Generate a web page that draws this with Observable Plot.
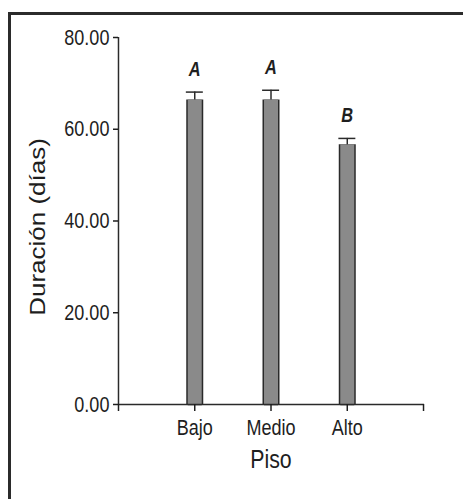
<!DOCTYPE html>
<html><head><meta charset="utf-8">
<script src="https://cdn.jsdelivr.net/npm/d3@7"></script>
<script src="https://cdn.jsdelivr.net/npm/@observablehq/plot@0.6"></script>
<style>
body{margin:0;background:#fff;}
#wrap{position:relative;width:463px;height:499px;overflow:hidden;background:#fff;}
#frame{position:absolute;left:8px;top:12px;width:600px;height:600px;border-top:3px solid #2b2b2b;border-left:3px solid #2b2b2b;pointer-events:none;}
#wrap svg{position:absolute;left:0;top:0;max-width:none !important;transform-origin:0 0;}
</style></head><body><div id="wrap"><div id="frame"></div></div>
<script>
const pisos = ["Bajo", "Medio", "Alto"];
const duracion = [66.4, 66.4, 56.6];
const limiteSup = [68.1, 68.5, 58.0];
const letras = ["A", "A", "B"];
const yTicks = [0, 20, 40, 60, 80];
const xDomain = ["__ini", ...pisos, "__fin"];

const data = pisos.map((p, i) => ({piso: p, dur: duracion[i], sup: limiteSup[i], letra: letras[i]}));
const ink = "#2a2a2a";
// The reference is horizontally condensed: draw wide, then squeeze.
const sx = 0.82;
const W = 463 / sx;

const chart = Plot.plot({
  width: W, height: 499,
  marginLeft: 118 / sx, marginRight: 39 / sx, marginTop: 37, marginBottom: 95,
  style: {fontFamily: "'Liberation Sans',Arial,sans-serif", fontSize: "22px", color: "#1e1e1e", background: "transparent"},
  x: {type: "point", domain: xDomain, padding: 0},
  y: {domain: [0, 80]},
  marks: [
    Plot.ruleX(data, {x: "piso", y1: 0, y2: "dur", stroke: ink, strokeWidth: 17 / sx}),
    Plot.ruleX(data, {x: "piso", y1: 0, y2: "dur", stroke: "#8a8a8a", strokeWidth: 14 / sx, insetTop: 1.5}),
    Plot.ruleX(data, {x: "piso", y1: "dur", y2: "sup", stroke: ink, strokeWidth: 1.8}),
    Plot.ruleY(data, {x1: "piso", x2: "piso", y: "sup", stroke: ink, strokeWidth: 1.5, insetLeft: -8.5 / sx, insetRight: -8.5 / sx}),
    Plot.text(data, {x: "piso", y: "sup", text: "letra", dy: -16, lineAnchor: "bottom", fontWeight: "bold", fontStyle: "italic", fontSize: 20, fill: "#1e1e1e"}),
    Plot.ruleY([0], {stroke: ink, strokeWidth: 1.5}),
    Plot.ruleX([xDomain[0]], {y1: 0, y2: 80, stroke: ink, strokeWidth: 1.8}),
    Plot.axisY({ticks: yTicks, tickFormat: d3.format(".2f"), tickSize: 5 / sx, tickPadding: 4 / sx, label: null, fontSize: 22, strokeWidth: 1.5}),
    Plot.axisX({tickSize: 7, tickPadding: 8, tickFormat: d => pisos.includes(d) ? d : "", label: null, fontSize: 22, strokeWidth: 1.8})
  ]
});

const svg = d3.select(chart);
const xr = chart.scale("x").range;
svg.append("text")
  .attr("x", (xr[0] + xr[1]) / 2).attr("y", 468)
  .attr("text-anchor", "middle")
  .style("font-size", "26px").attr("fill", "#1e1e1e")
  .text("Piso");
svg.append("text")
  .attr("transform", `translate(${38 / sx},227) rotate(-90)`)
  .attr("text-anchor", "middle").attr("dy", "0.35em")
  .style("font-size", "26px").attr("fill", "#1e1e1e")
  .text("Duración (días)");

chart.style.transform = `scaleX(${sx})`;
document.getElementById("wrap").appendChild(chart);
</script>
</body></html>
